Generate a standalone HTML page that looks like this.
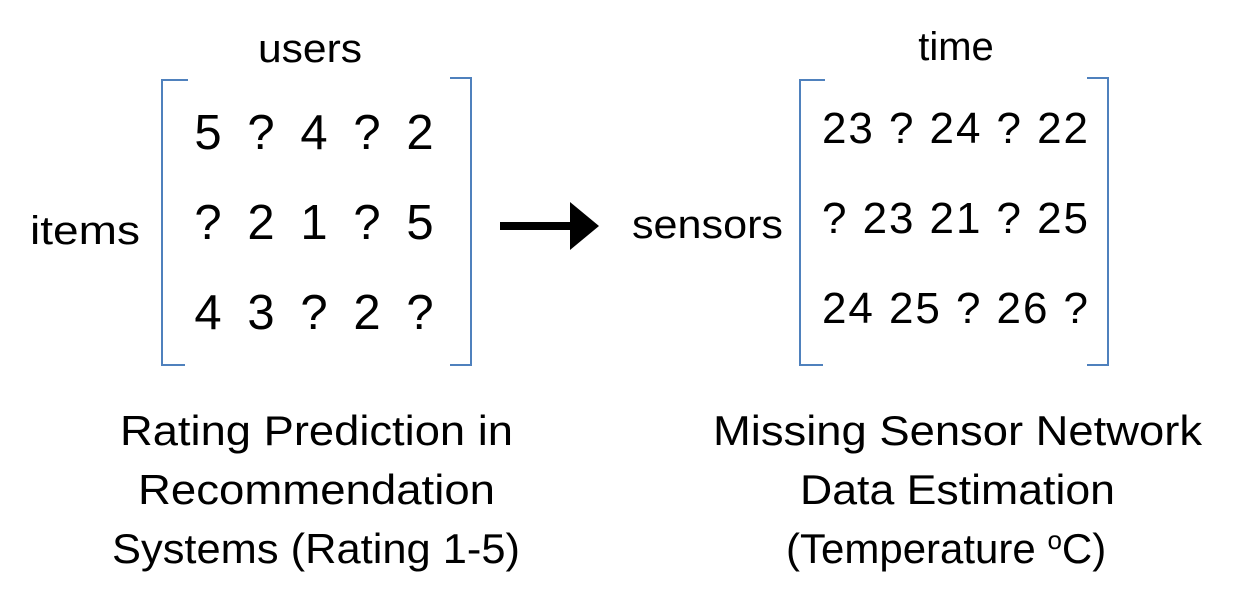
<!DOCTYPE html>
<html><head><meta charset="utf-8"><style>
body{margin:0;background:#fff}
svg{display:block}
text{font-family:"Liberation Sans",sans-serif;fill:#000}
</style></head><body>
<svg width="1244" height="609" viewBox="0 0 1244 609">
<g>
<text x="258" y="62" font-size="40" textLength="104" lengthAdjust="spacingAndGlyphs">users</text>
<text x="30" y="244" font-size="40" textLength="110" lengthAdjust="spacingAndGlyphs">items</text>
<path d="M188,80 H162 V365 H185" fill="none" stroke="#4f81bd" stroke-width="2"/>
<path d="M450,78 H471 V365 H450" fill="none" stroke="#4f81bd" stroke-width="2"/>
<g font-size="49" text-anchor="middle">
<text y="149"><tspan x="208">5</tspan><tspan x="261">?</tspan><tspan x="314">4</tspan><tspan x="367">?</tspan><tspan x="420">2</tspan></text>
<text y="239"><tspan x="208">?</tspan><tspan x="261">2</tspan><tspan x="314">1</tspan><tspan x="367">?</tspan><tspan x="420">5</tspan></text>
<text y="329"><tspan x="208">4</tspan><tspan x="261">3</tspan><tspan x="314">?</tspan><tspan x="367">2</tspan><tspan x="420">?</tspan></text>
</g>
<g font-size="42">
<text x="120" y="445" textLength="393" lengthAdjust="spacingAndGlyphs">Rating Prediction in</text>
<text x="138" y="504" textLength="357" lengthAdjust="spacingAndGlyphs">Recommendation</text>
<text x="112" y="563" textLength="408" lengthAdjust="spacingAndGlyphs">Systems (Rating 1-5)</text>
</g>
</g>
<path d="M500,222 H570 V202 L599,226 L570,250 V230 H500 Z" fill="#000"/>
<g>
<text x="956" y="60" font-size="40" text-anchor="middle">time</text>
<text x="632" y="238" font-size="40" textLength="151" lengthAdjust="spacingAndGlyphs">sensors</text>
<path d="M825,80 H800 V365 H823" fill="none" stroke="#4f81bd" stroke-width="2"/>
<path d="M1087,78 H1108 V365 H1087" fill="none" stroke="#4f81bd" stroke-width="2"/>
<g font-size="44">
<text x="822" y="143" textLength="266" lengthAdjust="spacing">23 ? 24 ? 22</text>
<text x="822" y="233" textLength="266" lengthAdjust="spacing">? 23 21 ? 25</text>
<text x="822" y="323" textLength="266" lengthAdjust="spacing">24 25 ? 26 ?</text>
</g>
<g font-size="42">
<text x="713" y="445" textLength="489" lengthAdjust="spacingAndGlyphs">Missing Sensor Network</text>
<text x="800" y="504" textLength="315" lengthAdjust="spacingAndGlyphs">Data Estimation</text>
<text x="786" y="563">(Temperature <tspan font-size="26" dy="-14">o</tspan><tspan dy="14">C)</tspan></text>
</g>
</g>
</svg>
</body></html>
